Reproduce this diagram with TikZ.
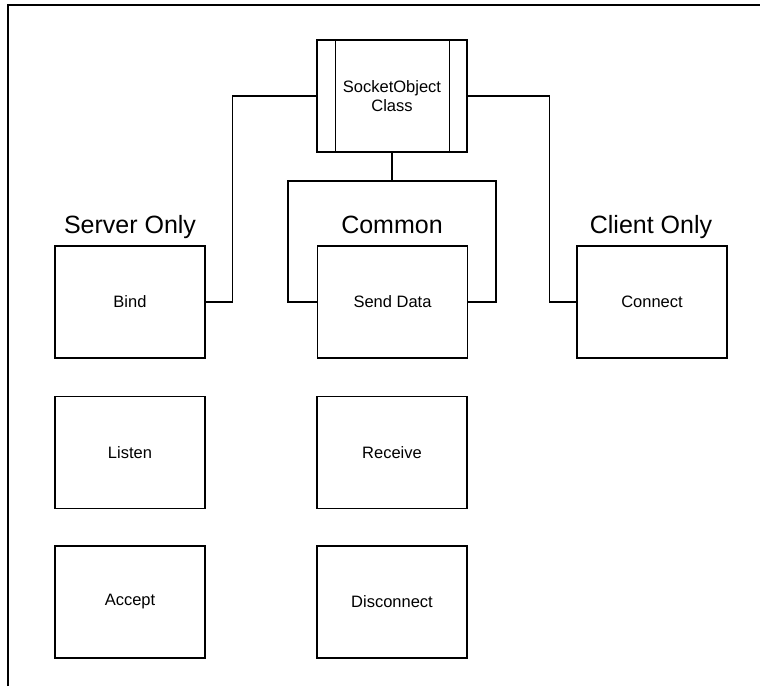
\documentclass[tikz,border=0pt]{standalone}
\usepackage{fontspec}
\setmainfont{Liberation Sans}
\begin{document}
\begin{tikzpicture}[x=1pt,y=-1pt,
  box/.style={draw, line width=1.3pt, minimum width=150pt, minimum height=112pt, inner sep=0pt,
    font=\fontsize{16.5}{19}\selectfont, align=center},
  title/.style={font=\fontsize{25}{28}\selectfont, inner sep=0pt, anchor=base},
  conn/.style={line width=1.3pt}]
\useasboundingbox (0,0) rectangle (760,686);
\draw[line width=2.2pt] (8,686) -- (8,5) -- (760,5);
% top box
\node[box] (sock) at (392,96) {SocketObject\\Class};
\draw[conn] ([xshift=19pt]sock.north west) -- ([xshift=19pt]sock.south west);
\draw[conn] ([xshift=-18pt]sock.north east) -- ([xshift=-18pt]sock.south east);
% titles
\node[title] (tserver) at (130,233) {Server Only};
\node[title] (tcommon) at (392,233) {Common};
\node[title] (tclient) at (651,233) {Client Only};
% boxes
\node[box] (bind) at (130,302) {Bind};
\node[box] (send) at (392.5,302) {Send Data};
\node[box] (connect) at (652,302) {Connect};
\node[box] (listen) at (130,452.5) {Listen};
\node[box] (receive) at (392,452.5) {Receive};
\node[box] (accept) at (130,602) {Accept};
\node[box] (disc) at (392,602) {Disconnect};
% connectors
\coordinate (jn) at (392,181);
\draw[conn] (sock.west) -- ++(-84,0) |- (bind.east);
\draw[conn] (sock.east) -- ++(82,0) |- (connect.west);
\draw[conn] (sock.south) -- (jn);
\draw[conn] (send.west) -- ++(-29,0) |- (jn) -- ++(104,0) |- (send.east);
\end{tikzpicture}
\end{document}
